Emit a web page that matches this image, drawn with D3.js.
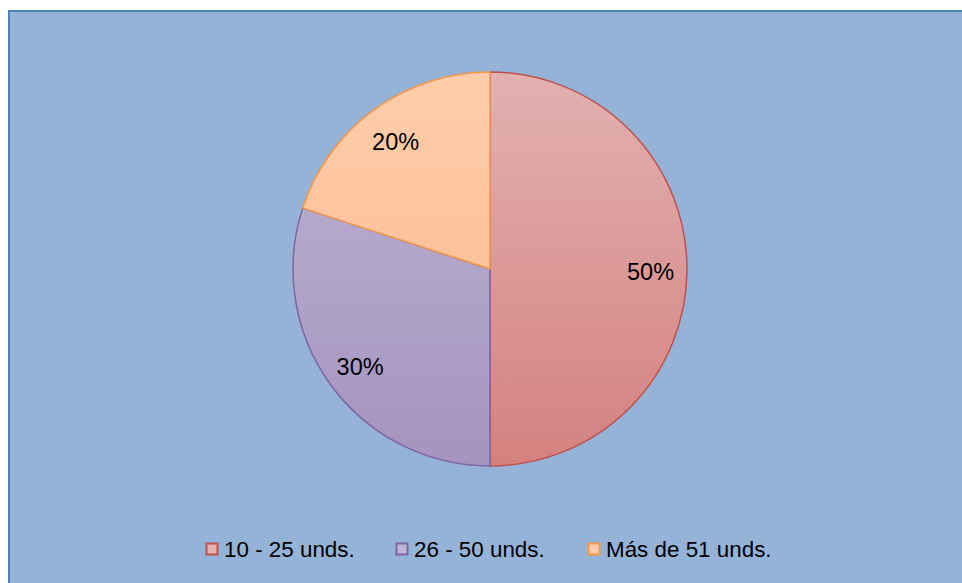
<!DOCTYPE html>
<html>
<head>
<meta charset="utf-8">
<script src="https://cdn.jsdelivr.net/npm/d3@7"></script>
<style>
  html, body { margin: 0; padding: 0; background: #ffffff; }
  svg { display: block; }
  text { font-family: "Liberation Sans", Arial, sans-serif; }
</style>
</head>
<body>
<svg id="chart" width="962" height="583"></svg>
<script>
// Order quantity ranges and their share of responses
const categories = ["10 - 25 unds.", "26 - 50 unds.", "Más de 51 unds."];
const values = [50, 30, 20];
const valueLabels = ["50%", "30%", "20%"];

// Slice palette: gradient top, gradient bottom, outline
const fillTop = ["#E2B1B0", "#BDB6D3", "#FFCDAB"];
const fillBottom = ["#D4817F", "#A493BF", "#FAB68A"];
const strokes = ["#C0504D", "#8064A2", "#F79646"];

const width = 962, height = 583;
const svg = d3.select("#chart");

// Chart area with its frame
svg.append("rect")
  .attr("x", 9).attr("y", 11)
  .attr("width", width + 10).attr("height", height + 10)
  .attr("fill", "#95B3D7")
  .attr("stroke", "#4F81BD")
  .attr("stroke-width", 2);

const cx = 490, cy = 269, radius = 197;

// Vertical gradient for each slice, in the slices' local coordinates
const defs = svg.append("defs");
categories.forEach((c, i) => {
  const grad = defs.append("linearGradient")
    .attr("id", "grad" + i)
    .attr("gradientUnits", "userSpaceOnUse")
    .attr("x1", 0).attr("y1", -radius)
    .attr("x2", 0).attr("y2", radius);
  grad.append("stop").attr("offset", "0%").attr("stop-color", fillTop[i]);
  grad.append("stop").attr("offset", "100%").attr("stop-color", fillBottom[i]);
});

const pie = d3.pie().sort(null).value(d => d);
const arcs = pie(values);
const arc = d3.arc().innerRadius(0).outerRadius(radius);
const labelArc = d3.arc().innerRadius(radius * 0.815).outerRadius(radius * 0.815);

const g = svg.append("g").attr("transform", `translate(${cx},${cy})`);

g.selectAll("path")
  .data(arcs)
  .join("path")
  .attr("d", arc)
  .attr("fill", (d, i) => `url(#grad${i})`)
  .attr("stroke", (d, i) => strokes[i])
  .attr("stroke-width", 1.5)
  .attr("stroke-linejoin", "round");

// Percentage labels
g.selectAll("text")
  .data(arcs)
  .join("text")
  .attr("transform", d => {
    const [x, y] = labelArc.centroid(d);
    return `translate(${x},${y + 3})`;
  })
  .attr("text-anchor", "middle")
  .attr("dy", "0.35em")
  .attr("font-size", 23.5)
  .attr("fill", "#000")
  .text((d, i) => valueLabels[i]);

// Legend
const legendX = [206, 396, 588];
const items = svg.append("g").selectAll("g")
  .data(categories)
  .join("g")
  .attr("transform", (d, i) => `translate(${legendX[i]},543)`);
items.append("rect")
  .attr("x", 0.5).attr("y", 0.5)
  .attr("width", 11).attr("height", 11)
  .attr("fill", (d, i) => fillTop[i])
  .attr("stroke", (d, i) => strokes[i])
  .attr("stroke-width", 2);
items.append("text")
  .attr("x", 18).attr("y", 14)
  .attr("font-size", 22.4)
  .attr("fill", "#000")
  .text(d => d);
</script>
</body>
</html>
